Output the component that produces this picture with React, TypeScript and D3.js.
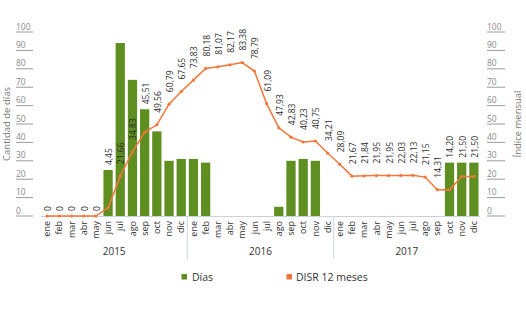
import React from "react";
import * as d3 from "d3";

const months = ["ene", "feb", "mar", "abr", "may", "jun", "jul", "ago", "sep", "oct", "nov", "dic"];
const years = ["2015", "2016", "2017"];
const dias = [0, 0, 0, 0, 0, 25, 94, 74, 58, 46, 30, 31, 31, 29, 0, 0, 0, 0, 0, 5, 30, 31, 30, 0, 0, 0, 0, 0, 0, 0, 0, 0, 0, 29, 29, 29];
const disr = [0, 0, 0, 0, 0, 4.45, 21.66, 34.83, 45.51, 49.56, 60.79, 67.65, 73.83, 80.18, 81.07, 82.17, 83.38, 78.79, 61.09, 47.93, 42.83, 40.23, 40.75, 34.21, 28.09, 21.67, 21.84, 21.95, 21.95, 22.03, 22.13, 21.15, 14.31, 14.2, 21.5, 21.5];
const ticks = [0, 10, 20, 30, 40, 50, 60, 70, 80, 90, 100];

const W = 526, H = 334;
const FONT = "'Open Sans', Lato, sans-serif";
const GREEN = "#5e8f20";
const ORANGE = "#f2773a";

export default function App() {
  const keys = years.flatMap((y) => months.map((m) => `${m}-${y}`));
  const x = d3.scaleBand().domain(keys).range([41, 480]).paddingInner(0.24).paddingOuter(0.12);
  const y = d3.scaleLinear().domain([0, 100]).range([216, 32]);
  const cx = (i: number) => (x(keys[i]) as number) + x.bandwidth() / 2;
  const line = d3.line<number>().x((_, i) => cx(i)).y((d) => y(d));
  const step = x.step();
  const x0 = 41;
  const fmt = (v: number) => (v === 0 ? "0" : v.toFixed(2).replace(".", ","));

  const labelBottom = (i: number) => {
    const py = y(disr[i]);
    if (disr[i] === 0) return py - 5;
    if (dias[i] > 0) {
      const bt = y(dias[i]);
      if (bt < py && bt > py - 40) return bt - 5;
    }
    return py - 12;
  };

  return (
    <svg width={W} height={H} style={{ position: "absolute", left: 0, top: 0, fontFamily: FONT }}>
      {/* left axis ticks */}
      {ticks.map((t) => (
        <g key={"l" + t}>
          <line x1={16} x2={33} y1={y(t)} y2={y(t)} stroke="#9a9a9a" strokeWidth={1} />
          <text x={16} y={y(t) - 2.5} fontSize={8.5} fill="#8a8a8a">{t}</text>
          <line x1={487} x2={505} y1={y(t)} y2={y(t)} stroke="#9a9a9a" strokeWidth={1} />
          <text x={487} y={y(t) - 2.5} fontSize={8.5} fill="#8a8a8a">{t}</text>
        </g>
      ))}
      <text transform={`translate(10,124) rotate(-90)`} textAnchor="middle" fontSize={9.5} fill="#777">Cantidad de días</text>
      <text transform={`translate(521,124) rotate(-90)`} textAnchor="middle" fontSize={9.5} fill="#777">Índice mensual</text>

      {/* bars */}
      {dias.map((d, i) =>
        d > 0 ? (
          <rect key={"b" + i} x={x(keys[i])} y={y(d)} width={x.bandwidth()} height={y(0) - y(d)} fill={GREEN} />
        ) : null
      )}

      {/* baseline */}
      <line x1={41} x2={480} y1={216.5} y2={216.5} stroke="#c9d3de" strokeWidth={1.2} />
      {/* year separators */}
      {[1, 2].map((k) => (
        <line key={"s" + k} x1={x0 + 12 * k * step} x2={x0 + 12 * k * step} y1={216} y2={259} stroke="#d3dbe4" strokeWidth={1.2} />
      ))}

      {/* line */}
      <path d={line(disr) as string} fill="none" stroke={ORANGE} strokeWidth={1.5} />
      {disr.map((v, i) => (
        <circle key={"c" + i} cx={cx(i)} cy={y(v)} r={1.6} fill={ORANGE} />
      ))}

      {/* data labels */}
      {disr.map((v, i) => (
        <text key={"t" + i} transform={`translate(${cx(i) + 1},${labelBottom(i)}) rotate(-90)`} dy="0.35em" fontSize={8.5} fill="#2b2b2b">
          {fmt(v)}
        </text>
      ))}

      {/* month labels */}
      {keys.map((k, i) => (
        <text key={"m" + i} transform={`translate(${cx(i)},221) rotate(-90)`} textAnchor="end" dy="0.35em" fontSize={9} fill="#333">
          {months[i % 12]}
        </text>
      ))}
      {/* year labels */}
      {years.map((yr, k) => (
        <text key={"y" + yr} x={x0 + (12 * k + 6) * step} y={255} textAnchor="middle" fontSize={10} fill="#333">
          {yr}
        </text>
      ))}

      {/* legend */}
      <rect x={181.5} y={274} width={5.5} height={5.5} fill={GREEN} />
      <text x={192} y={280.5} fontSize={10.5} fill="#333">Días</text>
      <rect x={286.5} y={274} width={5.5} height={5.5} fill={ORANGE} />
      <text x={296} y={280.5} fontSize={10.5} fill="#333">DISR 12 meses</text>
    </svg>
  );
}
